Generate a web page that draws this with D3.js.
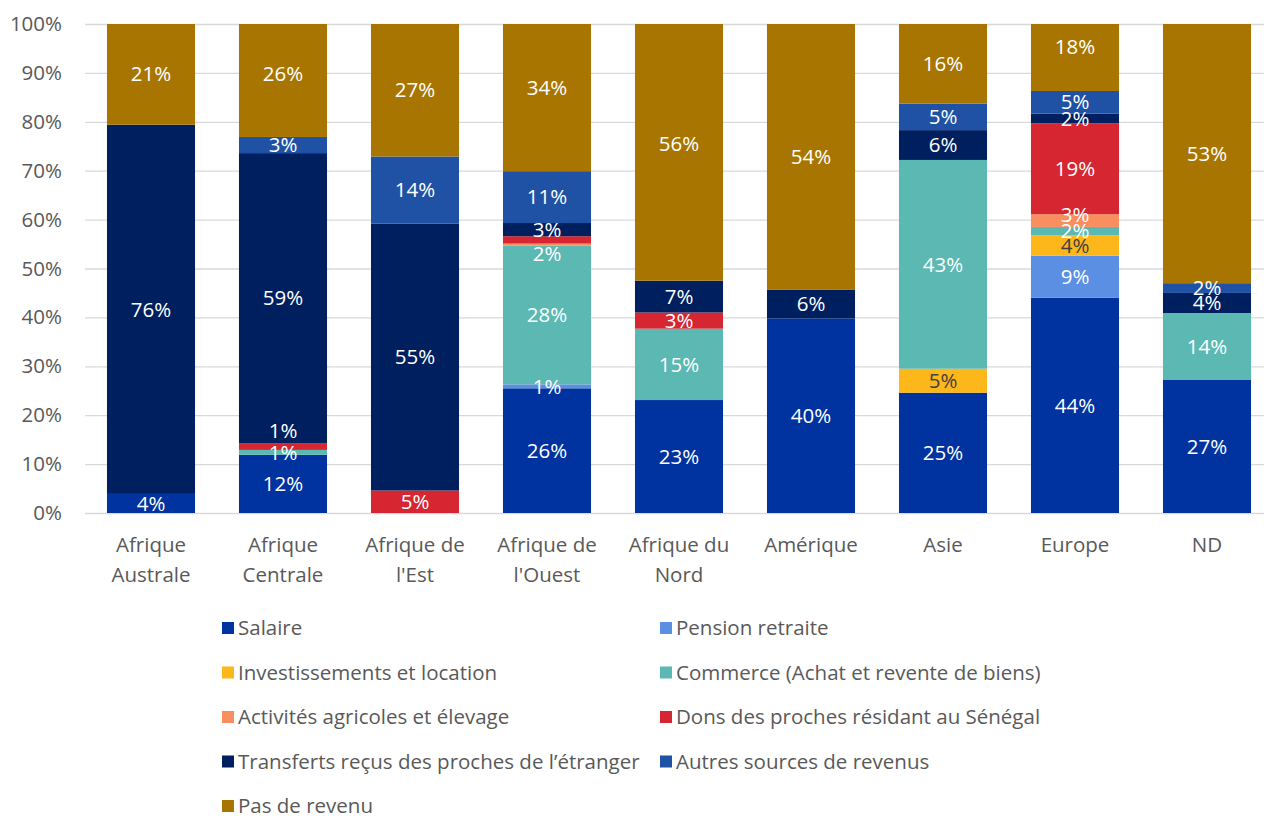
<!DOCTYPE html>
<html>
<head>
<meta charset="utf-8">
<script src="https://cdn.jsdelivr.net/npm/d3@7"></script>
<style>
  body { margin: 0; background: #fff; }
  svg { display: block; font-family: "Open Sans", sans-serif; }
</style>
</head>
<body>
<div class="chart"></div>
<script>
// categories (regions)
var categories = ['Afrique Australe', 'Afrique Centrale', "Afrique de l'Est", "Afrique de l'Ouest",
  'Afrique du Nord', 'Amérique', 'Asie', 'Europe', 'ND'];

var seriesNames = ['Salaire', 'Pension retraite', 'Investissements et location',
  'Commerce (Achat et revente de biens)', 'Activités agricoles et élevage',
  'Dons des proches résidant au Sénégal', 'Transferts reçus des proches de l’étranger',
  'Autres sources de revenus', 'Pas de revenu'];

// values in %, one per category
var salaire      = [3.9, 11.9, 0, 25.5, 23.1, 39.8, 24.6, 44.0, 27.2];
var pension      = [0, 0, 0, 0.8, 0, 0, 0, 8.6, 0];
var investissements = [0, 0, 0, 0, 0, 0, 4.9, 4.2, 0];
var commerce     = [0, 1.0, 0, 28.4, 14.6, 0, 42.7, 1.7, 13.7];
var agricole     = [0, 0, 0, 0.4, 0, 0, 0, 2.6, 0];
var dons         = [0, 1.4, 4.6, 1.5, 3.3, 0, 0, 18.6, 0];
var transferts   = [75.5, 59.3, 54.6, 2.7, 6.5, 5.9, 6.1, 2.0, 4.1];
var autres       = [0, 3.3, 13.7, 10.6, 0, 0, 5.4, 4.6, 2.0];
var pasRevenu    = [21, 26, 27.1, 34, 56, 54.4, 16.3, 18, 53];

var yTicks = [0, 10, 20, 30, 40, 50, 60, 70, 80, 90, 100];

var seriesValues = [salaire, pension, investissements, commerce, agricole, dons, transferts, autres, pasRevenu];

var colors = ['#0033a0', '#5b8fe3', '#fdb71a', '#5bb8b2', '#f98e5e', '#d62631', '#001f5f', '#1f52a5', '#a87600'];
var labelColors = ['#fff', '#fff', '#404040', '#fff', '#fff', '#fff', '#fff', '#fff', '#fff'];

// hand-moved labels in the original (px)
var labelShift = {};
labelShift['Afrique Centrale|5'] = -16;
labelShift["Afrique de l'Ouest|5"] = 14;
labelShift['Europe|4'] = -6;

var width = 1264;
var height = 816;
var margin = {top: 24, left: 85, bottom: 303};
var plotW = 132 * categories.length;
var plotH = height - margin.top - margin.bottom;
var fontSize = '20.5px';

// table for the stack
var table = categories.map(function(c, i) {
  var row = {category: c};
  seriesNames.forEach(function(s, j) { row[s] = seriesValues[j][i]; });
  return row;
});

var stacked = d3.stack().keys(seriesNames)(table);

var x = d3.scaleBand()
  .domain(categories)
  .range([0, plotW])
  .paddingInner(0.333)
  .paddingOuter(0.1665);

var y = d3.scaleLinear()
  .domain([0, 100])
  .range([plotH, 0]);

var svg = d3.select('.chart').append('svg')
  .attr('width', width)
  .attr('height', height);

var g = svg.append('g')
  .attr('transform', 'translate(' + margin.left + ',' + margin.top + ')');

svg.append('defs').append('clipPath')
  .attr('id', 'plotclip')
  .append('rect')
  .attr('x', 0).attr('y', 0)
  .attr('width', plotW).attr('height', plotH);

/// gridlines
var grid = g.append('g')
  .call(d3.axisLeft(y).tickValues(yTicks).tickSize(-plotW).tickFormat(''));
grid.select('.domain').remove();
grid.selectAll('line').attr('stroke', '#d9d9d9').attr('stroke-width', 1.3);

/// y axis labels
var yAxis = g.append('g')
  .call(d3.axisLeft(y).tickValues(yTicks).tickSize(0).tickPadding(23).tickFormat(function(d) { return d + '%'; }));
yAxis.select('.domain').remove();
yAxis.selectAll('text')
  .attr('fill', '#595959')
  .style('font-size', fontSize)
  .style('font-family', '"Open Sans", sans-serif');

/// bars
var bars = g.append('g').attr('clip-path', 'url(#plotclip)');

var layers = bars.selectAll('.layer')
  .data(stacked)
  .enter().append('g')
  .attr('class', 'layer')
  .attr('fill', function(d, i) { return colors[i]; });

layers.selectAll('rect')
  .data(function(d) { return d; })
  .enter().append('rect')
  .attr('x', function(d) { return x(d.data.category); })
  .attr('width', x.bandwidth())
  .attr('y', function(d) { return y(d[1]); })
  .attr('height', function(d) { return y(d[0]) - y(d[1]); });

/// data labels
var labels = g.append('g');
stacked.forEach(function(layer, i) {
  labels.selectAll('.lab' + i)
    .data(layer.filter(function(d) { return d[1] - d[0] >= 0.5; }))
    .enter().append('text')
    .attr('class', 'lab' + i)
    .attr('x', function(d) { return x(d.data.category) + x.bandwidth() / 2; })
    .attr('y', function(d) {
      var shift = labelShift[d.data.category + '|' + i] || 0;
      return y((d[0] + d[1]) / 2) + shift;
    })
    .attr('dy', '0.35em')
    .attr('text-anchor', 'middle')
    .attr('fill', labelColors[i])
    .style('font-size', fontSize)
    .text(function(d) { return Math.round(d[1] - d[0]) + '%'; });
});

/// category labels, wrapped at the last space
var cat = g.append('g')
  .attr('transform', 'translate(0,' + plotH + ')');
categories.forEach(function(c) {
  var k = c.lastIndexOf(' ');
  var lines = k > 0 ? [c.slice(0, k), c.slice(k + 1)] : [c];
  var t = cat.append('text')
    .attr('text-anchor', 'middle')
    .attr('fill', '#595959')
    .style('font-size', fontSize);
  lines.forEach(function(l, n) {
    t.append('tspan')
      .attr('x', x(c) + x.bandwidth() / 2)
      .attr('y', 39 + n * 30)
      .text(l);
  });
});

/// legend
var legend = svg.append('g');
var legendX = [222, 660];
seriesNames.forEach(function(s, i) {
  var lx = legendX[i % 2];
  var ly = 628 + Math.floor(i / 2) * 44.5;
  legend.append('rect')
    .attr('x', lx).attr('y', ly - 6)
    .attr('width', 12).attr('height', 12)
    .attr('fill', colors[i]);
  legend.append('text')
    .attr('x', lx + 16).attr('y', ly)
    .attr('dy', '0.35em')
    .attr('fill', '#595959')
    .style('font-size', fontSize)
    .text(s);
});
</script>
</body>
</html>
